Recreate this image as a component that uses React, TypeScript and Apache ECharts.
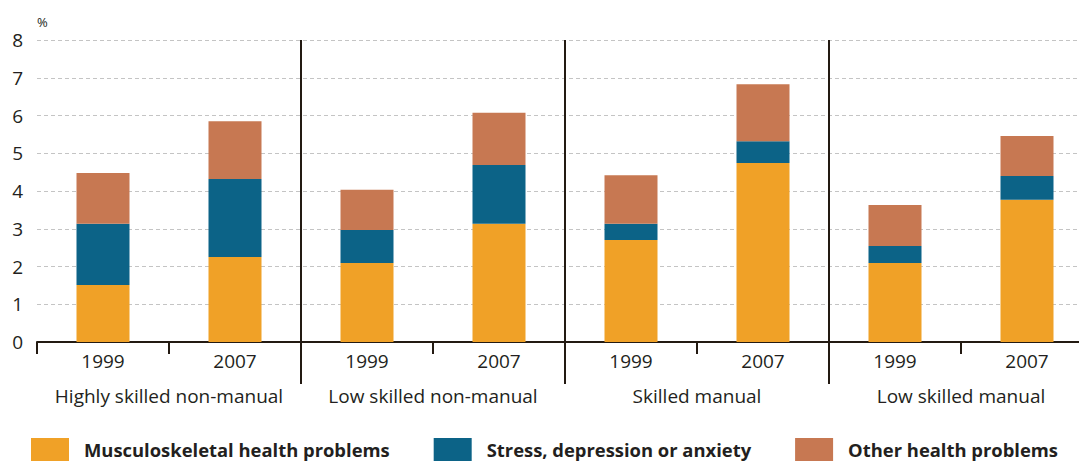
import React, { useEffect, useRef } from "react";
import * as echarts from "echarts";

const years = ["1999", "2007", "1999", "2007", "1999", "2007", "1999", "2007"];
const groups = [
  "Highly skilled non-manual",
  "Low skilled non-manual",
  "Skilled manual",
  "Low skilled manual",
];
const musculoskeletal = [1.51, 2.25, 2.09, 3.13, 2.7, 4.74, 2.09, 3.77];
const stress = [1.62, 2.07, 0.88, 1.56, 0.43, 0.58, 0.45, 0.63];
const other = [1.35, 1.53, 1.06, 1.38, 1.29, 1.51, 1.09, 1.06];
const yTicks = [0, 1, 2, 3, 4, 5, 6, 7, 8];

const TEXT = "#231f20";
const AXIS = "#231a12";
const FONT = "'Open Sans', 'Noto Sans', sans-serif";

export default function App() {
  const ref = useRef<HTMLDivElement>(null);
  useEffect(() => {
    if (!ref.current) return;
    const chart = echarts.init(ref.current, undefined, { renderer: "svg" });
    const skipFirst = (i: number) => i !== 0;
    chart.setOption({
      animation: false,
      textStyle: { fontFamily: FONT, color: TEXT },
      grid: { left: 37, right: 0, top: 40, bottom: 121 },
      legend: {
        left: 31,
        top: 438,
        padding: 0,
        icon: "rect",
        itemWidth: 38,
        itemHeight: 23,
        itemGap: 44,
        selectedMode: false,
        textStyle: {
          fontFamily: FONT,
          fontSize: 18.4,
          lineHeight: 18,
          fontWeight: "bold",
          color: TEXT,
          padding: [0, 0, 0, 10],
        },
        data: [
          "Musculoskeletal health problems",
          "Stress, depression or anxiety",
          "Other health problems",
        ],
      },
      xAxis: [
        {
          type: "category",
          position: "bottom",
          data: years,
          axisLine: { show: true, lineStyle: { color: AXIS, width: 2 } },
          axisTick: {
            show: true,
            interval: 0,
            length: 12,
            lineStyle: { color: AXIS, width: 2 },
          },
          axisLabel: {
            interval: 0,
            margin: 9,
            fontSize: 19,
            color: TEXT,
            fontFamily: FONT,
          },
          splitLine: { show: false },
        },
        {
          type: "category",
          position: "bottom",
          offset: 0,
          data: groups,
          axisLine: { show: false },
          axisTick: {
            show: true,
            interval: skipFirst,
            length: 42,
            lineStyle: { color: AXIS, width: 2 },
          },
          axisLabel: {
            interval: 0,
            margin: 44,
            fontSize: 19,
            color: TEXT,
            fontFamily: FONT,
          },
          splitLine: {
            show: true,
            interval: skipFirst,
            lineStyle: { color: AXIS, width: 2, type: "solid" },
          },
        },
      ],
      yAxis: {
        type: "value",
        min: yTicks[0],
        max: yTicks[yTicks.length - 1],
        interval: 1,
        name: "%",
        nameLocation: "end",
        nameGap: 12,
        nameTextStyle: {
          align: "left",
          fontSize: 13,
          color: TEXT,
          fontFamily: FONT,
          padding: [0, 0, 0, 0],
        },
        axisLine: { show: false },
        axisTick: { show: false },
        axisLabel: {
          margin: 14,
          fontSize: 19,
          color: TEXT,
          fontFamily: FONT,
        },
        splitLine: {
          show: true,
          lineStyle: { color: "#c4c4c4", width: 1, type: [4, 3] },
        },
      },
      series: [
        {
          name: "Musculoskeletal health problems",
          type: "bar",
          stack: "total",
          barWidth: 53,
          data: musculoskeletal,
          itemStyle: { color: "#f0a127" },
        },
        {
          name: "Stress, depression or anxiety",
          type: "bar",
          stack: "total",
          barWidth: 53,
          data: stress,
          itemStyle: { color: "#0c6387" },
        },
        {
          name: "Other health problems",
          type: "bar",
          stack: "total",
          barWidth: 53,
          data: other,
          itemStyle: { color: "#c77852" },
        },
      ],
    });
    return () => chart.dispose();
  }, []);
  return (
    <div
      style={{
        position: "fixed",
        left: 0,
        top: 0,
        width: 1079,
        height: 463,
        overflow: "hidden",
        background: "#fff",
      }}
    >
      <div ref={ref} style={{ width: 1093, height: 463 }} />
    </div>
  );
}
